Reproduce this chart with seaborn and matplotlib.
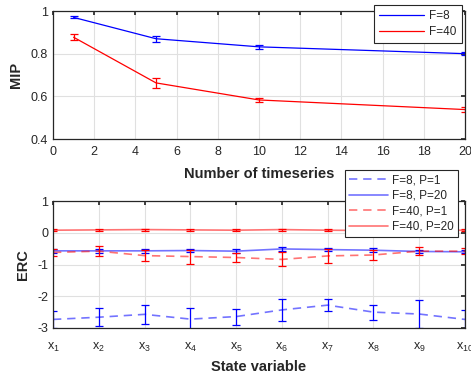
import matplotlib
matplotlib.use("Agg")
import matplotlib.pyplot as plt
import pandas as pd
import seaborn as sns

# top panel: MIP vs number of timeseries
n_series = [1, 5, 10, 20]
mip_f8 = [0.970, 0.870, 0.832, 0.800]
mip_f8_err = [0.005, 0.013, 0.010, 0.008]
mip_f40 = [0.877, 0.663, 0.583, 0.538]
mip_f40_err = [0.014, 0.025, 0.011, 0.012]

# bottom panel: ERC per state variable
state_idx = [1, 2, 3, 4, 5, 6, 7, 8, 9, 10]
state_labels = [r"$\mathregular{x_{%d}}$" % i for i in state_idx]
erc_f8_p1 = [-2.73, -2.66, -2.57, -2.72, -2.64, -2.43, -2.28, -2.50, -2.56, -2.73]
erc_f8_p1_err = [0.28, 0.29, 0.30, 0.35, 0.25, 0.34, 0.20, 0.24, 0.44, 0.30]
erc_f8_p20 = [-0.57, -0.57, -0.57, -0.56, -0.58, -0.51, -0.53, -0.55, -0.59, -0.60]
erc_f8_p20_err = [0.06, 0.07, 0.06, 0.06, 0.06, 0.07, 0.06, 0.06, 0.05, 0.05]
erc_f40_p1 = [-0.62, -0.58, -0.72, -0.75, -0.78, -0.84, -0.73, -0.70, -0.58, -0.58]
erc_f40_p1_err = [0.12, 0.15, 0.17, 0.22, 0.15, 0.22, 0.23, 0.16, 0.13, 0.10]
erc_f40_p20 = [0.08, 0.09, 0.10, 0.09, 0.08, 0.10, 0.08, 0.07, 0.08, 0.08]
erc_f40_p20_err = [0.03, 0.03, 0.03, 0.03, 0.03, 0.03, 0.03, 0.03, 0.03, 0.03]

sns.set_theme(style="whitegrid")
plt.rcParams.update({
    "font.family": ["Liberation Sans", "DejaVu Sans"],
    "mathtext.fontset": "custom",
    "mathtext.rm": "Liberation Sans",
    "axes.unicode_minus": False,
    "axes.edgecolor": "0.15",
    "axes.linewidth": 0.9,
    "grid.color": "0.88",
    "grid.linewidth": 0.8,
    "xtick.direction": "in",
    "ytick.direction": "in",
    "xtick.top": True,
    "ytick.right": True,
    "xtick.major.size": 3,
    "ytick.major.size": 3,
    "xtick.color": "0.15",
    "ytick.color": "0.15",
    "xtick.labelsize": 9,
    "ytick.labelsize": 9,
})

W, H = 471, 379
fig = plt.figure(figsize=(W / 100, H / 100), dpi=100)
ax1 = fig.add_axes([53 / W, 1 - 139 / H, 412 / W, 128 / H])
ax2 = fig.add_axes([53 / W, 1 - 328 / H, 412 / W, 127 / H])

BLUE = (0, 0, 1)
RED = (1, 0, 0)
LABEL_KW = dict(fontsize=10.5, fontweight="bold", color="0.15")

# top panel
top_df = pd.DataFrame({
    "n": n_series * 2,
    "mip": mip_f8 + mip_f40,
    "F": ["F=8"] * 4 + ["F=40"] * 4,
})
sns.lineplot(data=top_df, x="n", y="mip", hue="F",
             palette={"F=8": BLUE, "F=40": RED}, linewidth=0.9, ax=ax1)
ax1.errorbar(n_series, mip_f8, yerr=mip_f8_err, fmt="none",
             ecolor=BLUE, elinewidth=0.9, capsize=3.2, capthick=0.9)
ax1.errorbar(n_series, mip_f40, yerr=mip_f40_err, fmt="none",
             ecolor=RED, elinewidth=0.9, capsize=3.2, capthick=0.9)
ax1.set_xlim(0, 20)
ax1.set_ylim(0.4, 1)
ax1.set_xticks(range(0, 21, 2))
ax1.set_yticks([0.4, 0.6, 0.8, 1.0])
ax1.set_yticklabels(["0.4", "0.6", "0.8", "1"])
ax1.tick_params(axis="x", pad=5)
ax1.set_xlabel("Number of timeseries", **LABEL_KW)
ax1.set_ylabel("MIP", **LABEL_KW)
ax1.xaxis.set_label_coords(0.5, -0.215)
ax1.yaxis.set_label_coords(-0.072, 0.5)
leg1 = ax1.legend(loc="upper right", bbox_to_anchor=(462 / W, 1 - 5 / H),
                  bbox_transform=fig.transFigure, fontsize=8.5,
                  handlelength=3.8, fancybox=False, framealpha=1,
                  edgecolor="0.15", borderaxespad=0, borderpad=0.45,
                  labelspacing=0.3, handletextpad=0.45)
leg1.get_frame().set_linewidth(0.8)

# bottom panel
series = [
    ("F=8, P=1", erc_f8_p1, erc_f8_p1_err, BLUE, "--"),
    ("F=8, P=20", erc_f8_p20, erc_f8_p20_err, BLUE, "-"),
    ("F=40, P=1", erc_f40_p1, erc_f40_p1_err, RED, "--"),
    ("F=40, P=20", erc_f40_p20, erc_f40_p20_err, RED, "-"),
]
for label, vals, err, col, ls in series:
    sns.lineplot(x=state_idx, y=vals, color=col, alpha=0.55,
                 linewidth=1.2, label=label, ax=ax2)
    if ls == "--":
        ax2.lines[-1].set_dashes([5, 3.5])
    ax2.errorbar(state_idx, vals, yerr=err, fmt="none", ecolor=col,
                 elinewidth=0.9, capsize=3.2, capthick=0.9)
ax2.set_xlim(1, 10)
ax2.set_ylim(-3, 1)
ax2.set_xticks(state_idx)
ax2.set_xticklabels(state_labels)
ax2.set_yticks([-3, -2, -1, 0, 1])
ax2.tick_params(axis="x", pad=9)
ax2.set_xlabel("State variable", **LABEL_KW)
ax2.set_ylabel("ERC", **LABEL_KW)
ax2.xaxis.set_label_coords(0.5, -0.25)
ax2.yaxis.set_label_coords(-0.056, 0.5)
leg2 = ax2.legend(loc="upper right", bbox_to_anchor=(458 / W, 1 - 170 / H),
                  bbox_transform=fig.transFigure, fontsize=8.5,
                  handlelength=3.3, fancybox=False, framealpha=1,
                  edgecolor="0.15", borderaxespad=0, borderpad=0.35,
                  labelspacing=0.3, handletextpad=0.35)
leg2.get_frame().set_linewidth(0.8)
for h in leg2.get_lines():
    h.set_alpha(0.55)
leg2.set_zorder(10)

for ax in (ax1, ax2):
    ax.set_facecolor("white")
    for s in ax.spines.values():
        s.set_visible(True)
        s.set_color("0.15")

fig.savefig("out.png", dpi=100)
